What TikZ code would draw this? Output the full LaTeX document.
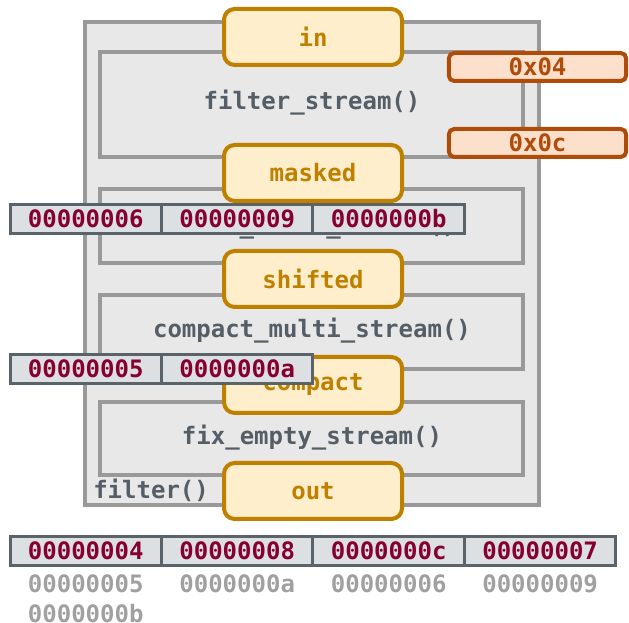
\documentclass[tikz,border=0pt]{standalone}
\usepackage{fontspec}
\setmonofont{DejaVu Sans Mono}
\usepackage{xcolor}
\usetikzlibrary{positioning}

\definecolor{boxfill}{HTML}{E8E8E8}
\definecolor{boxline}{HTML}{999999}
\definecolor{fntext}{HTML}{555E66}
\definecolor{stagefill}{HTML}{FFEECC}
\definecolor{stageline}{HTML}{BF8000}
\definecolor{maskfill}{HTML}{FCE0CC}
\definecolor{maskline}{HTML}{B04C0A}
\definecolor{cellfill}{HTML}{DDE0E3}
\definecolor{cellline}{HTML}{5A626A}
\definecolor{celltext}{HTML}{850030}
\definecolor{oldtext}{HTML}{A0A0A0}

\newcommand{\codefont}{\ttfamily\bfseries\fontsize{18}{20}\selectfont}

\tikzset{
  fnbox/.style={draw=boxline, fill=boxfill, line width=3pt},
  fnlabel/.style={text=fntext, font=\codefont},
  stage/.style={draw=stageline, fill=stagefill, line width=3pt, rounded corners=8pt,
    minimum width=133.5pt, minimum height=42pt, text=stageline, font=\codefont},
  maskbox/.style={draw=maskline, fill=maskfill, line width=3pt, rounded corners=4pt,
    minimum width=133pt, minimum height=21pt, inner sep=0pt, text=maskline, font=\codefont},
  cell/.style={draw=cellline, fill=cellfill, line width=2.25pt, outer sep=0pt,
    minimum width=113.6pt, minimum height=21.5pt, inner sep=0pt, text=celltext, font=\codefont},
  oldval/.style={text=oldtext, font=\codefont, inner sep=0pt}
}

\begin{document}
\begin{tikzpicture}[x=0.75pt,y=-0.75pt]
% \draw[lightgray] (0,0) grid[step=50] (629,623);
\useasboundingbox (0,0) rectangle (629,623);

% filter() and its four stages
\draw[fnbox] (85,22) rectangle (539,505);
\draw[fnbox] (100,52) rectangle (523,157);
\draw[fnbox] (100,189) rectangle (523,263);
\draw[fnbox] (100,295) rectangle (523,369);
\draw[fnbox] (100,402) rectangle (523,475);

\node[fnlabel] (fstream) at (312,103) {filter\_stream()};
\node[fnlabel] (smulti) at (312,227) {shift\_multi\_stream()};
\node[fnlabel] (cmulti) at (312,331) {compact\_multi\_stream()};
\node[fnlabel] (fempty) at (312,438) {fix\_empty\_stream()};
\node[fnlabel, anchor=west, inner sep=0pt] (filt) at (93,490) {filter()};

% streams between the stages
\node[stage] (in) at (313,37) {in};
\node[stage] (masked) at (313,173) {masked};
\node[stage] (shifted) at (313,279) {shifted};
\node[stage] (compact) at (313,385) {compact};
\node[stage] (out) at (313,491) {out};

% masks
\node[maskbox] (lo) at (537.5,67) {0x04};
\node[maskbox] (hi) at (537.5,143) {0x0c};

% values
\node[cell, anchor=west] (a1) at (10,219) {00000006};
\node[cell, right=0pt of a1] (a2) {00000009};
\node[cell, right=0pt of a2] (a3) {0000000b};

\node[cell, anchor=west] (b1) at (10,369) {00000005};
\node[cell, right=0pt of b1] (b2) {0000000a};

\node[cell, anchor=west] (c1) at (10,551) {00000004};
\node[cell, right=0pt of c1] (c2) {00000008};
\node[cell, right=0pt of c2] (c3) {0000000c};
\node[cell, right=0pt of c3] (c4) {00000007};

\node[oldval, below=7pt of c1] (d1) {00000005};
\node[oldval, below=7pt of c2] (d2) {0000000a};
\node[oldval, below=7pt of c3] (d3) {00000006};
\node[oldval, below=7pt of c4] (d4) {00000009};
\node[oldval, below=8pt of d1] (e1) {0000000b};

\end{tikzpicture}
\end{document}
